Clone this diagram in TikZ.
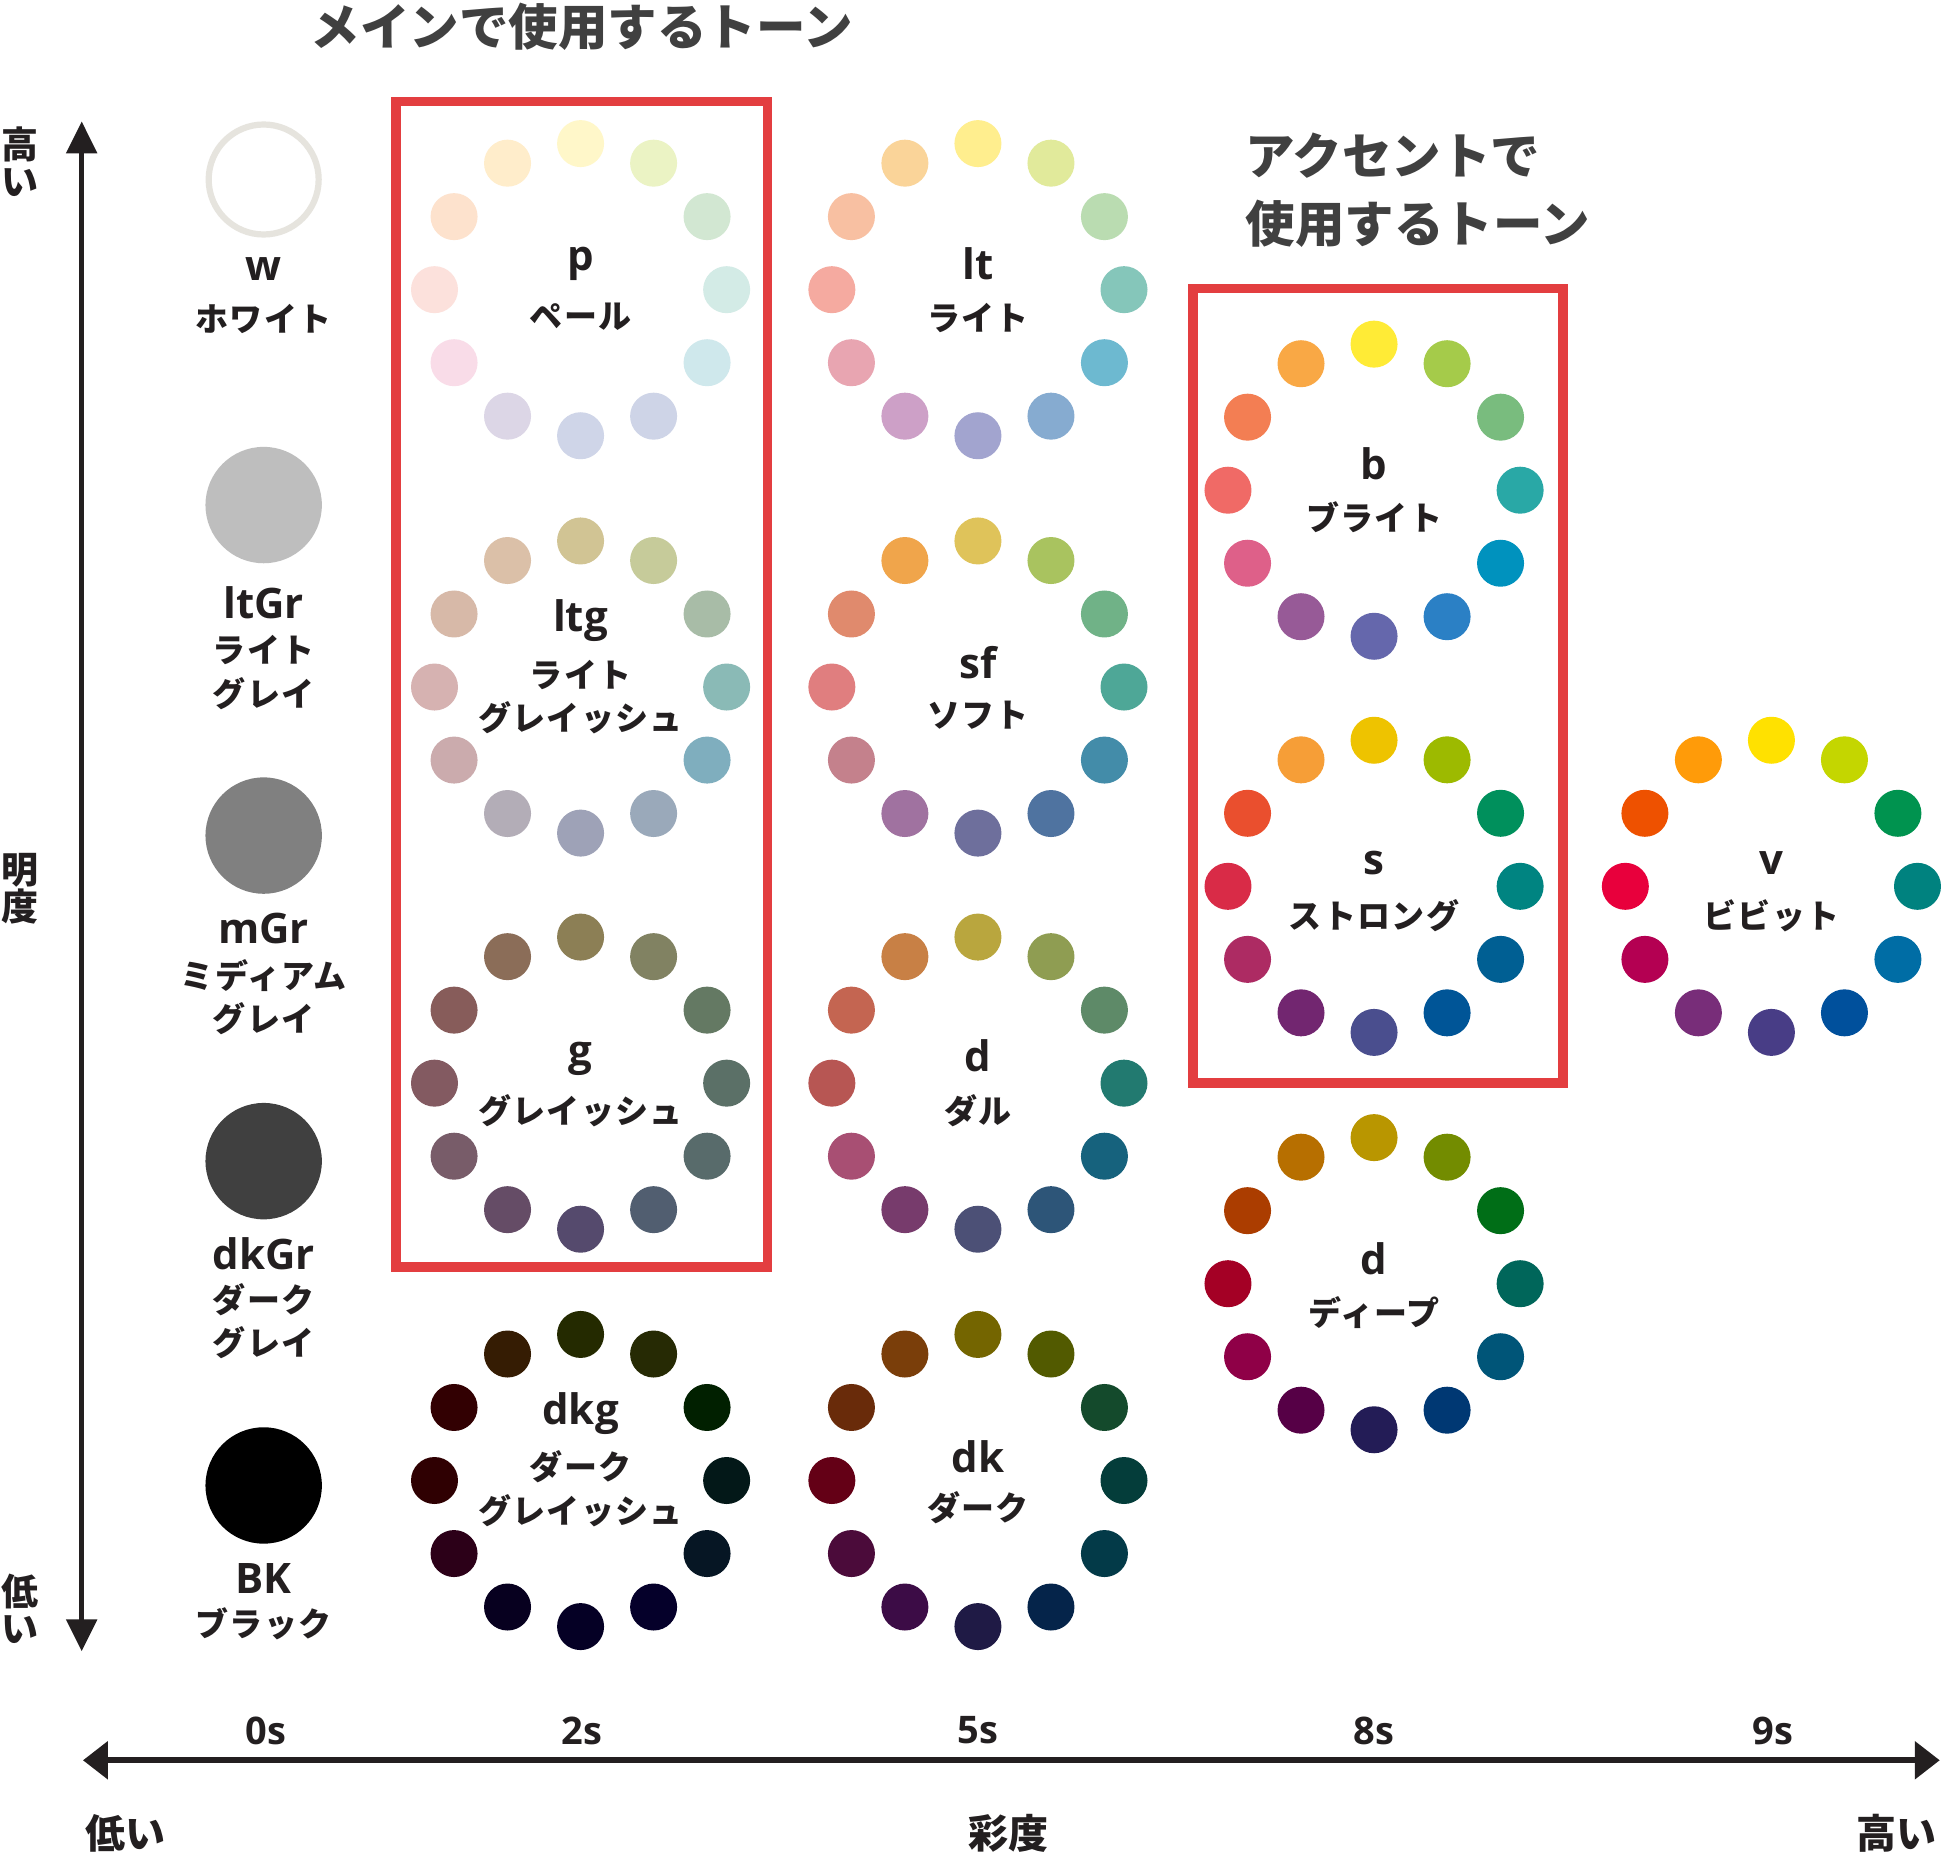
\documentclass[tikz,border=0pt]{standalone}
\usepackage{fontspec}
\setmainfont{Open Sans}
\newfontfamily\jpf{Noto Sans CJK JP}
\newfontfamily\jps{Noto Sans CJK JP}[LetterSpace=4]
\usetikzlibrary{arrows.meta}
\definecolor{ink}{HTML}{231F20}
\definecolor{titlegray}{HTML}{404040}
\definecolor{boxred}{HTML}{E33E40}
\tikzset{
  dot/.style={circle, inner sep=0pt, minimum size=47pt},
  grayc/.style={circle, inner sep=0pt, minimum size=116.4pt},
  lat/.style={font=\fontsize{42}{42}\selectfont\bfseries, text=ink, inner sep=0pt},
  jpl/.style={font=\jps\bfseries\fontsize{33}{33}\selectfont, text=ink, inner sep=0pt},
  ttl/.style={font=\jpf\bfseries\fontsize{49.5}{60}\selectfont, text=titlegray, inner sep=0pt},
  axl/.style={font=\jpf\bfseries\fontsize{40}{40}\selectfont, text=ink, inner sep=0pt},
  tick/.style={font=\fontsize{38}{38}\selectfont\bfseries, text=ink, inner sep=0pt},
  redbox/.style={draw=boxred, line width=9.5pt},
  axis/.style={draw=ink, line width=6pt},
}
\newcommand\tonering[4]{%
  \foreach \col [count=\i from 0] in {#4} {
    \edef\tmpdef{\noexpand\definecolor{dotc}{HTML}{\col}}\tmpdef
    \pgfmathsetmacro\ang{-90+30*\i}
    \node[dot, fill=dotc] (#1-\i) at ({#2+118*cos(\ang)},{#3+118*sin(\ang)}) {};
  }
}
\begin{document}
\begin{tikzpicture}[x=1.2379pt, y=-1.2379pt]
\useasboundingbox (0,0) rectangle (1568,1499);
\fill[white] (0,0) rectangle (1568,1499);

% titles
\node[ttl] (title1) at (470,22) {メインで使用するトーン};
\node[ttl, anchor=west] (title2a) at (1006,126) {アクセントで};
\node[ttl, anchor=west] (title2b) at (1006,181) {使用するトーン};

% red boxes
\draw[redbox] (319.8,82) rectangle (620.2,1023.5);
\draw[redbox] (963.8,233) rectangle (1262.6,875);

% vertical axis
\coordinate (vtop) at (66,98);
\coordinate (vbot) at (66,1334);
\draw[axis, line width=5.4pt, {Triangle[length=32pt,width=30pt]}-{Triangle[length=32pt,width=30pt]}] (vtop) -- (vbot);
\node[axl, align=center, font=\jpf\bfseries\fontsize{37}{37}\selectfont] (vhi) at (16,131) {高\\い};
\node[axl, align=center, font=\jpf\bfseries\fontsize{37}{37}\selectfont] (vmid) at (16,718) {明\\度};
\node[axl, align=center, font=\jpf\bfseries\fontsize{37}{37}\selectfont] (vlo) at (16,1300) {低\\い};

% horizontal axis
\coordinate (hl) at (67,1422);
\coordinate (hr) at (1567,1422);
\draw[axis, line width=6pt, {Triangle[length=25pt,width=37pt]}-{Triangle[length=25pt,width=37pt]}] (hl) -- (hr);
\node[tick] (t0) at (215,1398) {0s};
\node[tick] (t2) at (470,1398) {2s};
\node[tick] (t5) at (790,1398) {5s};
\node[tick] (t8) at (1110,1398) {8s};
\node[tick] (t9) at (1432,1398) {9s};
\node[axl] (hlo) at (101,1481) {低い};
\node[axl] (hmid) at (815,1481) {彩度};
\node[axl] (hhi) at (1532,1481) {高い};

% achromatic column
\node[grayc, draw={rgb,255:red,230;green,228;blue,222}, line width=6.2pt, fill=white, minimum size=110pt] (cw) at (213,145) {};
\node[lat] (cw-l) at (213,217) {w};
\node[jpl] (cw-j) at (213,258) {ホワイト};
\node[grayc, fill={rgb,255:red,190;green,190;blue,190}] (clt) at (213,408) {};
\node[lat] (clt-l) at (213,487) {ltGr};
\node[jpl] (clt-j1) at (213,525) {ライト};
\node[jpl] (clt-j2) at (213,560) {グレイ};
\node[grayc, fill={rgb,255:red,128;green,128;blue,128}] (cm) at (213,675) {};
\node[lat] (cm-l) at (213,750) {mGr};
\node[jpl] (cm-j1) at (213,788) {ミディアム};
\node[jpl] (cm-j2) at (213,823) {グレイ};
\node[grayc, fill={rgb,255:red,64;green,64;blue,64}] (cdk) at (213,938) {};
\node[lat] (cdk-l) at (213,1013) {dkGr};
\node[jpl] (cdk-j1) at (213,1050) {ダーク};
\node[jpl] (cdk-j2) at (213,1085) {グレイ};
\node[grayc, fill=black] (cbk) at (213,1200) {};
\node[lat] (cbk-l) at (213,1275) {BK};
\node[jpl] (cbk-j) at (213,1312) {ブラック};

% rings
\tonering{p}{469}{234}{FFF7C9,EBF3C4,D2E7D2,D3EBE6,CFE8EC,CED4E7,CFD5E8,DCD6E6,F9DCE8,FCE1DC,FDE2CD,FFEDCB}
\node[lat] (p-l) at (469,213) {p};
\node[jpl] (p-j) at (469,256) {ペール};

\tonering{lt}{790}{234}{FFEE8E,E1EA9B,BADCB1,85C6BA,6DB9D0,86ABD0,A2A4CF,CDA0C7,E8A5B1,F5AAA0,F8C0A2,FAD499}
\node[lat] (lt-l) at (790,213) {lt};
\node[jpl] (lt-j) at (790,257) {ライト};

\tonering{ltg}{469}{555}{D1C494,C6CB9A,A8BCA7,8ABAB6,7FAEBE,9AA9BA,9EA2B7,B3ADB7,CBABAD,D6B2B1,D7B9A8,DBC0A8}
\node[lat] (ltg-l) at (469,501) {ltg};
\node[jpl] (ltg-j1) at (469,545) {ライト};
\node[jpl] (ltg-j2) at (469,580) {グレイッシュ};

\tonering{sf}{790}{555}{DFC35A,A9C35F,70B287,4EA797,438CA9,4F73A0,6E6F9C,A072A0,C4818C,E07E7F,E08A6D,F0A54B}
\node[lat] (sf-l) at (790,535) {sf};
\node[jpl] (sf-j) at (790,578) {ソフト};

\tonering{g}{469}{875}{8C7F55,818262,647963,5B7067,586B6B,515E70,554A6D,654C66,785C69,835A61,875C5A,8B6D58}
\node[lat] (g-l) at (469,855) {g};
\node[jpl] (g-j) at (469,897) {グレイッシュ};

\tonering{dl}{790}{875}{B9A63E,8F9D52,5E8A68,227A70,16627D,2D5578,4C5076,773B6C,A84F73,B75653,C46551,C88045}
\node[lat] (dl-l) at (790,853) {d};
\node[jpl] (dl-j) at (790,897) {ダル};

\tonering{dkg}{469}{1196}{242A00,262A04,012000,031818,061624,05002A,050025,07001F,2C0018,2F0002,320002,351C03}
\node[lat] (dkg-l) at (469,1142) {dkg};
\node[jpl] (dkg-j1) at (469,1185) {ダーク};
\node[jpl] (dkg-j2) at (469,1220) {グレイッシュ};

\tonering{dk}{790}{1196}{746500,525A00,144A2C,043D3A,033A48,05244A,1F1A45,3C0C46,4B0B3A,640016,692B0A,7A3E0A}
\node[lat] (dk-l) at (790,1177) {dk};
\node[jpl] (dk-j) at (790,1218) {ダーク};

\tonering{b}{1110}{396}{FFEB36,A5CB4A,79BC7E,29A8A6,0092BE,2B80C5,6567AC,975A97,DE6089,F06A66,F37E53,F9A845}
\node[lat] (b-l) at (1110,375) {b};
\node[jpl] (b-j) at (1110,418) {ブライト};

\tonering{s}{1110}{716}{EEC300,9DBA00,00905C,008481,005F93,005597,4A4E8E,722670,AD2B63,D92B47,EA4F2E,F69E37}
\node[lat] (s-l) at (1110,697) {s};
\node[jpl] (s-j) at (1110,740) {ストロング};

\tonering{dp}{1110}{1037}{B99600,738C00,006E17,00665A,005578,003873,231C56,560046,8F0047,A40025,AB3D00,B76F00}
\node[lat] (dp-l) at (1110,1017) {d};
\node[jpl] (dp-j) at (1110,1060) {ディープ};

\tonering{v}{1431}{716}{FFE100,C4D600,00934F,00827F,006DA5,00509C,483D86,782D79,B40052,E8003C,EE5100,FF9B09}
\node[lat] (v-l) at (1431,697) {v};
\node[jpl] (v-j) at (1431,740) {ビビット};
\end{tikzpicture}
\end{document}
